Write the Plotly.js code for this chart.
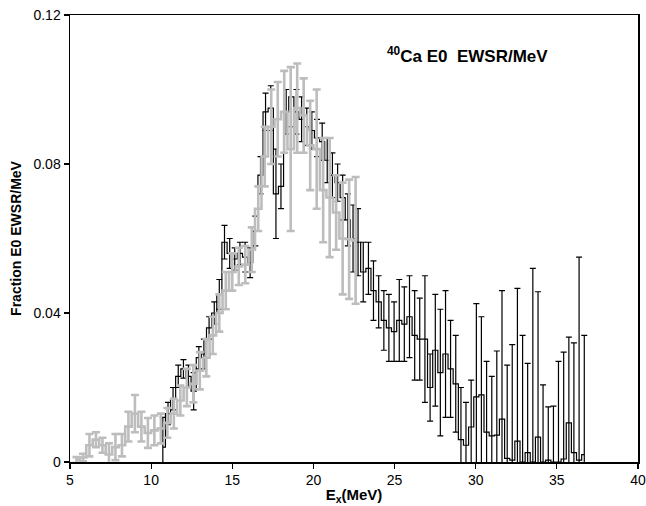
<!DOCTYPE html>
<html>
<head>
<meta charset="utf-8">
<script src="https://cdn.plot.ly/plotly-3.0.1.min.js"></script>
<style>html,body{margin:0;padding:0;background:#fff;}#chart{width:646px;height:506px;}</style>
</head>
<body>
<div id="chart"></div>
<script>
// Black histogram (bin centres, MeV), fraction E0 EWSR/MeV and errors
var blackE = [10.72, 11.04, 11.35, 11.67, 11.99, 12.30, 12.62, 12.94, 13.25, 13.57, 13.89, 14.20, 14.52, 14.84, 15.15, 15.47, 15.79, 16.10, 16.42, 16.74, 17.05, 17.37, 17.69, 18.00, 18.32, 18.64, 18.95, 19.27, 19.59, 19.90, 20.22, 20.54, 20.85, 21.17, 21.49, 21.80, 22.12, 22.44, 22.75, 23.07, 23.39, 23.70, 24.02, 24.34, 24.65, 24.97, 25.29, 25.60, 25.92, 26.24, 26.55, 26.87, 27.19, 27.51, 27.82, 28.14, 28.45, 28.77, 29.09, 29.40, 29.72, 30.04, 30.35, 30.67, 30.99, 31.30, 31.62, 31.94, 32.25, 32.57, 32.89, 33.20, 33.52, 33.84, 34.15, 34.47, 34.79, 35.10, 35.42, 35.74, 36.05, 36.37, 36.69];
var blackY = [0.004, 0.013, 0.017, 0.023, 0.025, 0.023, 0.019, 0.028, 0.029, 0.036, 0.040, 0.045, 0.059, 0.056, 0.0545, 0.056, 0.055, 0.0535, 0.062, 0.077, 0.094, 0.095, 0.072, 0.074, 0.094, 0.098, 0.094, 0.092, 0.090, 0.089, 0.087, 0.086, 0.081, 0.077, 0.075, 0.071, 0.065, 0.060, 0.059, 0.051, 0.052, 0.046, 0.043, 0.038, 0.036, 0.035, 0.038, 0.037, 0.039, 0.034, 0.033, 0.033, 0.020, 0.030, 0.024, 0.029, 0.025, 0.021, 0.006, 0.0045, 0.0094, 0.0175, 0.018, 0.008, 0.007, 0.0072, 0.0115, 0.001, 0.0005, 0.0056, 0, 0.0025, 0, 0.0067, 0, 0.0005, 0, 0, 0.0008, 0.0105, 0.0025, 0.0005, 0.002];
var blackErr = [0.008, 0.003, 0.003, 0.003, 0.0025, 0.003, 0.005, 0.003, 0.004, 0.003, 0.003, 0.004, 0.0045, 0.004, 0.003, 0.003, 0.004, 0.004, 0.004, 0.005, 0.005, 0.006, 0.012, 0.006, 0.006, 0.008, 0.006, 0.006, 0.005, 0.005, 0.005, 0.005, 0.006, 0.006, 0.005, 0.006, 0.007, 0.009, 0.009, 0.008, 0.007, 0.008, 0.007, 0.008, 0.009, 0.008, 0.011, 0.010, 0.011, 0.012, 0.011, 0.017, 0.009, 0.015, 0.017, 0.017, 0.013, 0.013, 0.014, 0.0115, 0.0126, 0.025, 0.021, 0.019, 0.016, 0.0226, 0.0345, 0.025, 0.031, 0.041, 0.034, 0.024, 0.052, 0.039, 0.0207, 0.0143, 0.015, 0.027, 0.0287, 0.023, 0.0295, 0.0545, 0.032];

// Grey histogram
var grayE = [5.4, 5.8, 6.2, 6.6, 7.0, 7.4, 7.8, 8.2, 8.6, 9.0, 9.4, 9.8, 10.2, 10.6, 11.0, 11.4, 11.8, 12.2, 12.6, 13.0, 13.4, 13.8, 14.2, 14.6, 15.0, 15.4, 15.8, 16.2, 16.6, 17.0, 17.4, 17.8, 18.2, 18.6, 19.0, 19.4, 19.8, 20.2, 20.6, 21.0, 21.4, 21.8, 22.2, 22.6];
var grayY = [0.0005, 0.0012, 0.0045, 0.006, 0.0045, 0.002, 0.004, 0.0045, 0.0095, 0.013, 0.0095, 0.0078, 0.0085, 0.009, 0.0105, 0.013, 0.0165, 0.020, 0.021, 0.0245, 0.028, 0.034, 0.040, 0.046, 0.051, 0.0525, 0.053, 0.057, 0.068, 0.082, 0.090, 0.092, 0.094, 0.084, 0.095, 0.093, 0.085, 0.084, 0.073, 0.071, 0.067, 0.060, 0.0598, 0.0595];
var grayErr = [0.0008, 0.001, 0.003, 0.002, 0.002, 0.003, 0.0035, 0.003, 0.004, 0.005, 0.004, 0.004, 0.004, 0.004, 0.004, 0.004, 0.004, 0.005, 0.005, 0.005, 0.005, 0.005, 0.005, 0.005, 0.005, 0.005, 0.005, 0.006, 0.006, 0.008, 0.010, 0.010, 0.011, 0.022, 0.012, 0.010, 0.012, 0.016, 0.014, 0.016, 0.010, 0.015, 0.016, 0.017];

var xTickVals = [5, 10, 15, 20, 25, 30, 35, 40];
var yTickVals = [0, 0.04, 0.08, 0.12];
var yTickText = ['0', '0.04', '0.08', '0.12'];

var FONT = 'Liberation Sans, Arial, sans-serif';

var traces = [
  {
    x: blackE, y: blackY, type: 'scatter', mode: 'lines',
    line: {color: '#000000', width: 1.2, shape: 'hvh'},
    error_y: {type: 'data', array: blackErr, visible: true, color: '#000000', thickness: 1.2, width: 3},
    showlegend: false, hoverinfo: 'skip'
  },
  {
    x: grayE, y: grayY, type: 'scatter', mode: 'lines',
    line: {color: '#bdbdbd', width: 2.6, shape: 'hvh'},
    error_y: {type: 'data', array: grayErr, visible: true, color: '#bdbdbd', thickness: 2.6, width: 4},
    showlegend: false, hoverinfo: 'skip'
  }
];

var layout = {
  width: 646, height: 506,
  margin: {l: 70, r: 8, t: 15, b: 44},
  paper_bgcolor: '#ffffff', plot_bgcolor: '#ffffff',
  font: {family: FONT, color: '#000000', size: 14},
  showlegend: false,
  xaxis: {
    range: [5, 40], tickvals: xTickVals, ticks: 'outside', ticklen: 5, tickwidth: 1.2, tickcolor: '#000',
    showline: true, linecolor: '#000', linewidth: 1.5, mirror: true,
    showgrid: false, zeroline: false,
    tickfont: {family: FONT, size: 14, color: '#000'},
    title: {text: '<b>E<sub>x</sub>(MeV)</b>', font: {family: FONT, size: 15, color: '#000'}, standoff: 2}
  },
  yaxis: {
    range: [0, 0.12], tickvals: yTickVals, ticktext: yTickText, ticks: 'outside', ticklen: 5, tickwidth: 1.2, tickcolor: '#000',
    showline: true, linecolor: '#000', linewidth: 1.5, mirror: true,
    showgrid: false, zeroline: false,
    tickfont: {family: FONT, size: 14, color: '#000'},
    title: {text: '<b>Fraction E0 EWSR/MeV</b>', font: {family: FONT, size: 14, color: '#000'}, standoff: 8}
  },
  annotations: [
    {
      text: '<b><sup>40</sup>Ca E0&nbsp; EWSR/MeV</b>', xref: 'x', yref: 'paper',
      x: 24.4, y: 0.91, xanchor: 'left', yanchor: 'middle', showarrow: false,
      font: {family: FONT, size: 17, color: '#000'}
    }
  ]
};

Plotly.newPlot('chart', traces, layout, {displayModeBar: false, staticPlot: true});
</script>
</body>
</html>
